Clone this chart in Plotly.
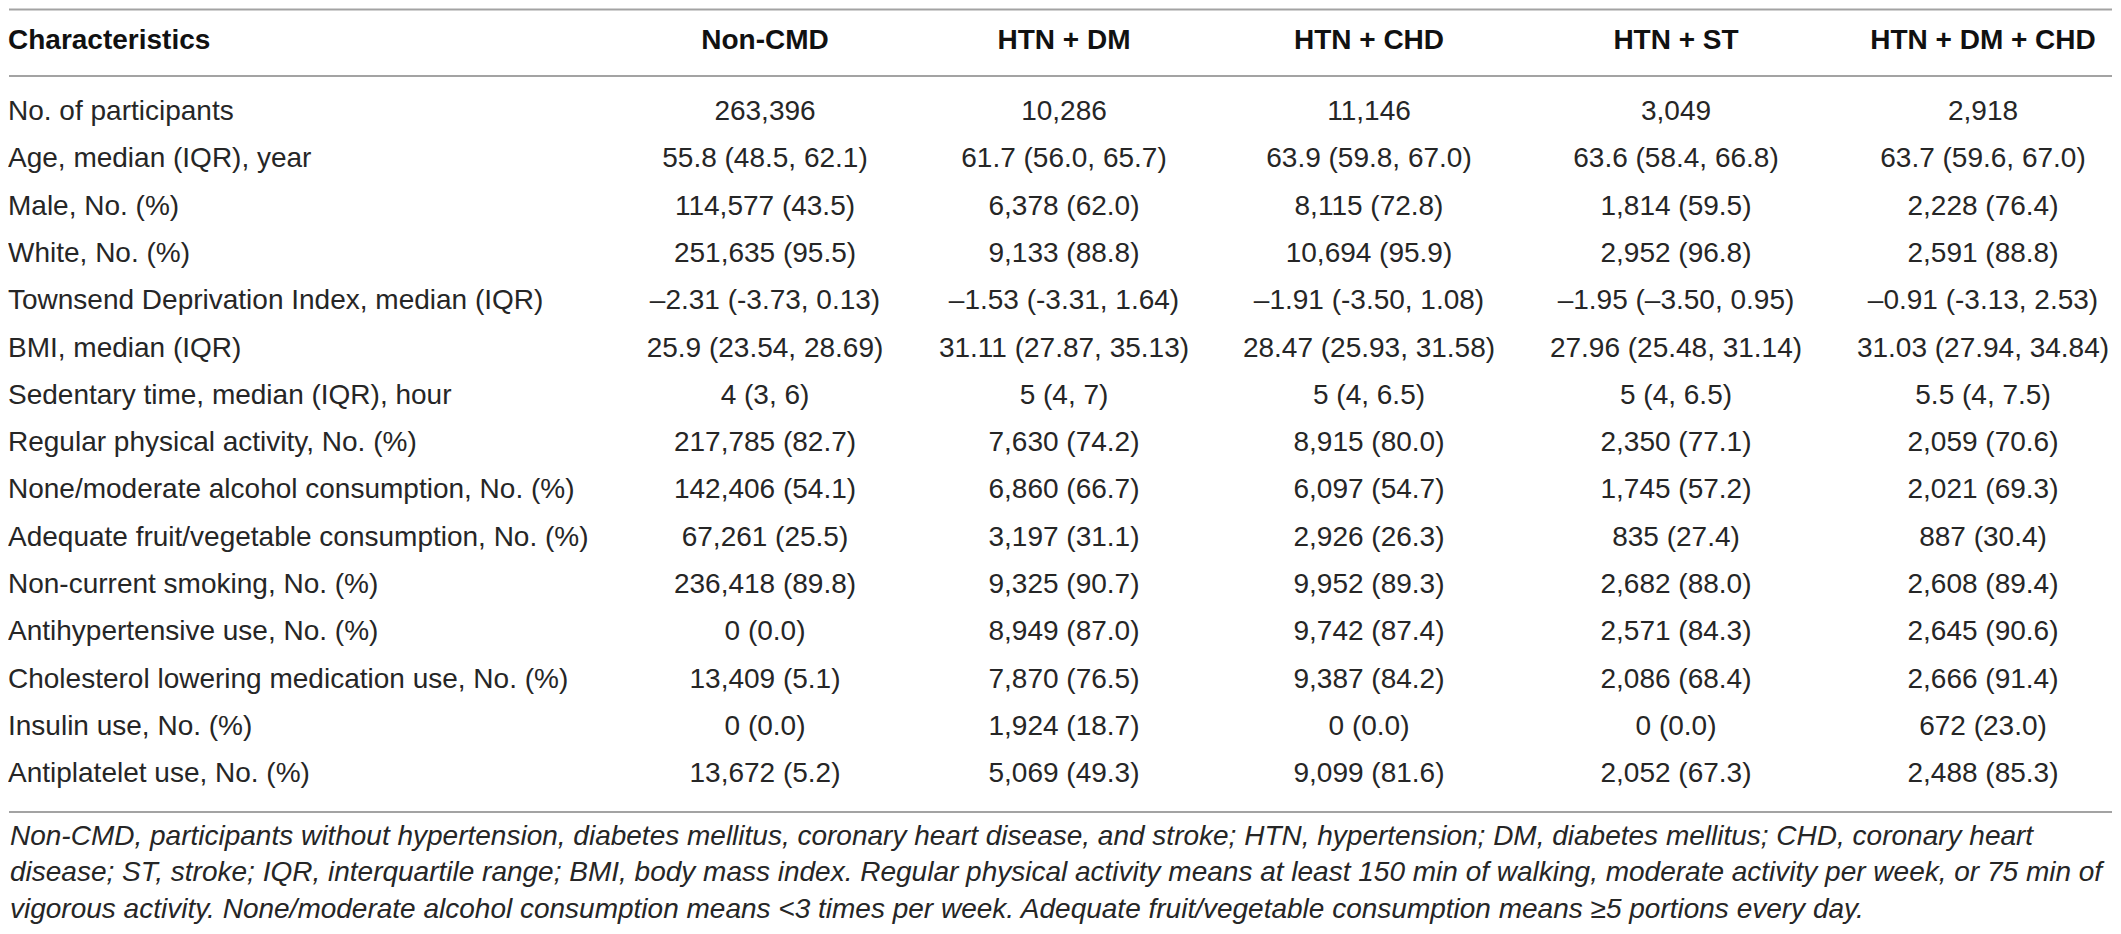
import plotly.graph_objects as go

# table content
characteristics = [
    "No. of participants",
    "Age, median (IQR), year",
    "Male, No. (%)",
    "White, No. (%)",
    "Townsend Deprivation Index, median (IQR)",
    "BMI, median (IQR)",
    "Sedentary time, median (IQR), hour",
    "Regular physical activity, No. (%)",
    "None/moderate alcohol consumption, No. (%)",
    "Adequate fruit/vegetable consumption, No. (%)",
    "Non-current smoking, No. (%)",
    "Antihypertensive use, No. (%)",
    "Cholesterol lowering medication use, No. (%)",
    "Insulin use, No. (%)",
    "Antiplatelet use, No. (%)",
]
group_names = ["Non-CMD", "HTN + DM", "HTN + CHD", "HTN + ST", "HTN + DM + CHD"]

non_cmd = ["263,396", "55.8 (48.5, 62.1)", "114,577 (43.5)", "251,635 (95.5)",
           "–2.31 (-3.73, 0.13)", "25.9 (23.54, 28.69)", "4 (3, 6)", "217,785 (82.7)",
           "142,406 (54.1)", "67,261 (25.5)", "236,418 (89.8)", "0 (0.0)",
           "13,409 (5.1)", "0 (0.0)", "13,672 (5.2)"]
htn_dm = ["10,286", "61.7 (56.0, 65.7)", "6,378 (62.0)", "9,133 (88.8)",
          "–1.53 (-3.31, 1.64)", "31.11 (27.87, 35.13)", "5 (4, 7)", "7,630 (74.2)",
          "6,860 (66.7)", "3,197 (31.1)", "9,325 (90.7)", "8,949 (87.0)",
          "7,870 (76.5)", "1,924 (18.7)", "5,069 (49.3)"]
htn_chd = ["11,146", "63.9 (59.8, 67.0)", "8,115 (72.8)", "10,694 (95.9)",
           "–1.91 (-3.50, 1.08)", "28.47 (25.93, 31.58)", "5 (4, 6.5)", "8,915 (80.0)",
           "6,097 (54.7)", "2,926 (26.3)", "9,952 (89.3)", "9,742 (87.4)",
           "9,387 (84.2)", "0 (0.0)", "9,099 (81.6)"]
htn_st = ["3,049", "63.6 (58.4, 66.8)", "1,814 (59.5)", "2,952 (96.8)",
          "–1.95 (–3.50, 0.95)", "27.96 (25.48, 31.14)", "5 (4, 6.5)", "2,350 (77.1)",
          "1,745 (57.2)", "835 (27.4)", "2,682 (88.0)", "2,571 (84.3)",
          "2,086 (68.4)", "0 (0.0)", "2,052 (67.3)"]
htn_dm_chd = ["2,918", "63.7 (59.6, 67.0)", "2,228 (76.4)", "2,591 (88.8)",
              "–0.91 (-3.13, 2.53)", "31.03 (27.94, 34.84)", "5.5 (4, 7.5)", "2,059 (70.6)",
              "2,021 (69.3)", "887 (30.4)", "2,608 (89.4)", "2,645 (90.6)",
              "2,666 (91.4)", "672 (23.0)", "2,488 (85.3)"]

footnote_lines = [
    "Non-CMD, participants without hypertension, diabetes mellitus, coronary heart disease, and stroke; "
    "HTN, hypertension; DM, diabetes mellitus; CHD, coronary heart",
    "disease; ST, stroke; IQR, interquartile range; BMI, body mass index. Regular physical activity means "
    "at least 150 min of walking, moderate activity per week, or 75 min of",
    "vigorous activity. None/moderate alcohol consumption means &lt;3 times per week. Adequate "
    "fruit/vegetable consumption means ≥5 portions every day.",
]

W, H = 2121, 934
OFF = 8  # page body margin, figure starts 8px in
FONT = "Liberation Sans, Arial, sans-serif"
TXT = "#262626"
RULE = "#a3a3a3"

col_x = [765, 1064, 1369, 1676, 1983]
rows = list(range(len(characteristics)))
header_y = -1.51
row_px, row_gap = 113, 47.3

fig = go.Figure()

# first column (labels)
fig.add_trace(go.Scatter(
    x=[8] * len(characteristics), y=rows, text=characteristics, mode="text",
    textposition="middle right", textfont=dict(family=FONT, size=28, color=TXT),
    hoverinfo="skip", showlegend=False, cliponaxis=False,
))
fig.add_trace(go.Scatter(
    x=[8], y=[header_y], text=["<b>Characteristics</b>"], mode="text",
    textposition="middle right", textfont=dict(family=FONT, size=28, color="#111"),
    hoverinfo="skip", showlegend=False, cliponaxis=False,
))

for cx, name, vals in zip(col_x, group_names,
                          [non_cmd, htn_dm, htn_chd, htn_st, htn_dm_chd]):
    fig.add_trace(go.Scatter(
        x=[cx] * len(vals), y=rows, text=vals, mode="text",
        textposition="middle center", textfont=dict(family=FONT, size=28, color=TXT),
        hoverinfo="skip", showlegend=False, cliponaxis=False,
    ))
    fig.add_trace(go.Scatter(
        x=[cx], y=[header_y], text=[f"<b>{name}</b>"], mode="text",
        textposition="middle center", textfont=dict(family=FONT, size=28, color="#111"),
        hoverinfo="skip", showlegend=False, cliponaxis=False,
    ))

# horizontal rules (top, under header, bottom)
for yy in [-2.19, -0.78, 14.78]:
    fig.add_shape(type="line", xref="x", yref="y", x0=9, x1=2112, y0=yy, y1=yy,
                  line=dict(color=RULE, width=2))

fig.add_annotation(
    text="<i>" + "<br>".join(footnote_lines) + "</i>",
    xref="paper", yref="paper", x=0, y=1 - (818 - OFF) / (H - 2 * OFF),
    xanchor="left", yanchor="top", align="left", showarrow=False,
    font=dict(family=FONT, size=28, color=TXT),
)

fig.update_layout(
    width=W - 2 * OFF, height=H - 2 * OFF,
    margin=dict(l=0, r=0, t=0, b=0),
    paper_bgcolor="white", plot_bgcolor="white",
    xaxis=dict(range=[OFF, W - OFF], visible=False, fixedrange=True),
    yaxis=dict(range=[(H - OFF - row_px) / row_gap, (OFF - row_px) / row_gap],
               visible=False, fixedrange=True),
)

fig.write_html("out.html")
